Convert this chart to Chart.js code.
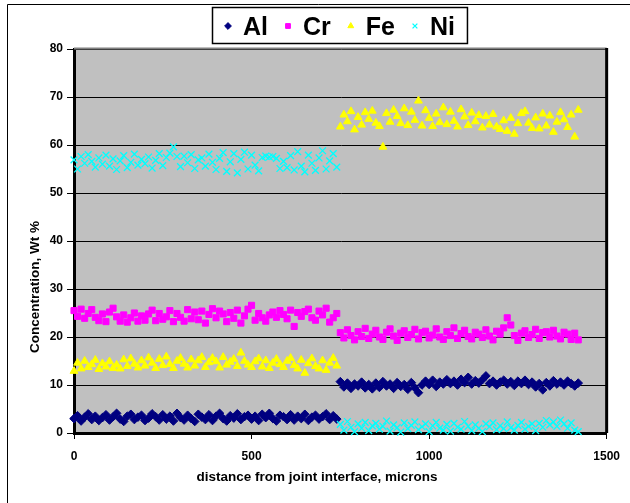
<!DOCTYPE html>
<html>
<head>
<meta charset="utf-8">
<title>Concentration profile across the joint</title>
<script src="https://cdn.jsdelivr.net/npm/chart.js@4.4.1/dist/chart.umd.min.js"></script>
<style>
    body { margin: 0; background: #fff; }
    canvas { display: block; }
</style>
</head>
<body>
<canvas id="chartProfile" width="630" height="503"></canvas>
<script>
// distance from the joint interface (microns), one entry per analysis spot
var distance = [
    0, 10, 20, 30, 40, 50, 60, 70, 80, 90, 100, 110, 120, 130, 140, 150, 160, 170, 180, 190,
    200, 210, 220, 230, 240, 250, 260, 270, 280, 290, 300, 310, 320, 330, 340, 350, 360, 370, 380, 390,
    400, 410, 420, 430, 440, 450, 460, 470, 480, 490, 500, 510, 520, 530, 540, 550, 560, 570, 580, 590,
    600, 610, 620, 630, 640, 650, 660, 670, 680, 690, 700, 710, 720, 730, 740,
    750, 760, 770, 780, 790, 800, 810, 820, 830, 840, 850, 860, 870, 880, 890, 900, 910, 920, 930, 940,
    950, 960, 970, 980, 990, 1000, 1010, 1020, 1030, 1040, 1050, 1060, 1070, 1080, 1090, 1100, 1110, 1120, 1130, 1140,
    1150, 1160, 1170, 1180, 1190, 1200, 1210, 1220, 1230, 1240, 1250, 1260, 1270, 1280, 1290, 1300, 1310, 1320, 1330, 1340,
    1350, 1360, 1370, 1380, 1390, 1400, 1410, 1420
];

// Wt % of each element at the spots above
var alWt = [
    3.0, 3.6, 2.5, 3.3, 4.0, 2.8, 3.5, 2.6, 3.2, 3.8, 2.7, 3.4, 4.1, 2.9, 2.4, 3.5, 3.9, 2.8, 3.3, 3.7,
    2.6, 3.1, 4.0, 3.4, 2.7, 3.8, 2.9, 3.5, 2.5, 4.1, 3.2, 2.7, 3.7, 3.0, 2.4, 3.9, 3.3, 2.8, 3.8, 2.6,
    3.5, 4.1, 3.0, 2.5, 3.6, 3.1, 4.0, 2.8, 3.4, 3.7, 2.9, 3.5, 2.6, 3.9, 3.2, 4.1, 3.0, 2.5, 3.7, 3.4,
    2.8, 3.8, 2.7, 3.5, 3.0, 3.9, 2.6, 3.3, 3.7, 2.9, 3.4, 4.0, 2.8, 3.6, 2.9,
    10.7, 9.6, 10.4, 9.3, 10.2, 9.8, 10.6, 9.4, 10.1, 9.2, 10.4, 9.5, 10.7, 9.8, 10.2, 9.3, 10.5, 9.7, 10.1, 9.1,
    10.5, 9.4, 8.4, 10.0, 10.8, 10.1, 11.0, 9.7, 10.6, 10.2, 11.1, 10.3, 10.8, 10.0, 11.2, 10.5, 11.6, 10.2, 10.9, 10.4,
    11.1, 11.9, 10.3, 10.8, 10.0, 10.6, 11.0, 10.2, 10.7, 9.9, 10.8, 10.3, 11.0, 10.1, 10.6, 9.6, 10.3, 9.0, 10.5, 9.8,
    10.9, 10.2, 10.6, 10.0, 10.8, 10.3, 9.8, 10.4
];
var crWt = [
    25.5, 24.3, 25.8, 23.9, 24.9, 25.7, 24.1, 23.4, 24.8, 23.2, 25.2, 26.0, 24.2, 23.3, 24.6, 23.1, 24.0, 25.0, 23.3, 24.4,
    23.5, 24.8, 25.6, 23.4, 24.9, 23.7, 24.2, 25.5, 23.2, 24.9, 24.1, 23.3, 25.7, 23.8, 25.2, 23.6, 25.4, 22.9, 24.7, 25.9,
    24.0, 25.4, 24.8, 23.2, 25.1, 23.9, 25.6, 22.9, 24.4, 25.8, 26.6, 23.5, 24.9, 24.0, 23.3, 24.6, 25.2, 24.1, 25.5, 24.7,
    23.8, 25.6, 22.2, 25.1, 24.3, 25.3, 25.8, 24.0, 23.5, 25.4, 24.6, 26.0, 23.1, 24.0, 24.9,
    20.9, 19.8, 21.5, 20.3, 19.4, 21.1, 20.1, 21.8, 19.7, 20.6, 21.4, 20.0, 19.5, 21.0, 21.7, 20.2, 19.3, 20.8, 21.3, 19.9,
    20.5, 21.6, 19.6, 20.9, 21.2, 19.8, 20.4, 21.7, 20.0, 19.5, 21.1, 20.3, 21.9, 19.7, 20.7, 21.4, 20.1, 19.6, 21.0, 20.6,
    19.9, 21.5, 20.2, 19.4, 21.2, 20.6, 21.9, 24.0, 22.5, 20.3, 19.3, 20.8, 21.3, 19.9, 20.5, 21.6, 19.7, 20.9, 21.1, 20.0,
    21.4, 20.2, 19.6, 21.0, 20.6, 19.5, 20.8, 19.4
];
var feWt = [
    12.9, 14.6, 13.4, 15.0, 13.7, 14.3, 15.2, 13.3, 14.5, 13.8, 14.9, 13.5, 14.2, 13.4, 15.3, 13.9, 15.5, 14.4, 13.6, 15.1,
    14.0, 15.7, 14.6, 13.5, 15.4, 14.1, 15.9, 14.3, 13.5, 15.0, 15.6, 14.4, 13.6, 15.3, 14.0, 15.1, 15.8, 13.7, 14.7, 15.6,
    14.9, 13.6, 15.8, 14.2, 14.8, 15.4, 13.9, 16.7, 15.0, 14.2, 13.7, 14.9, 15.5, 13.8, 15.1, 13.5, 14.6, 15.4, 14.3, 13.7,
    15.0, 15.6, 14.1, 13.4, 15.2, 12.5, 14.5, 15.5, 13.9, 13.4, 15.1, 13.1, 14.6, 15.6, 14.0,
    63.8, 66.3, 64.9, 67.0, 63.2, 65.8, 64.2, 66.8, 65.4, 67.1, 64.6, 63.9, 59.6, 66.6, 64.8, 67.3, 66.0, 64.5, 67.6, 64.1,
    66.9, 65.2, 69.2, 64.0, 67.2, 65.6, 63.9, 66.5, 64.7, 67.8, 64.3, 66.9, 65.0, 63.8, 67.4, 65.9, 64.1, 66.7, 64.9, 66.2,
    63.6, 66.0, 64.2, 66.4, 63.8, 63.3, 65.1, 62.9, 65.6, 62.3, 64.5, 66.6, 67.0, 64.6, 63.5, 65.7, 63.4, 66.5, 64.0, 66.1,
    62.7, 64.8, 66.8, 65.3, 63.7, 66.3, 61.7, 67.3
];
var niWt = [
    56.9, 55.0, 57.6, 56.2, 58.0, 56.6, 55.4, 57.3, 56.0, 57.9, 55.6, 57.1, 54.9, 56.7, 57.8, 55.3, 56.4, 58.1, 55.8, 57.0,
    56.1, 57.5, 55.2, 56.8, 58.2, 55.7, 57.4, 58.3, 59.6, 57.6, 55.5, 57.7, 56.3, 58.0, 55.1, 56.9, 57.3, 55.6, 58.1, 56.4,
    54.9, 57.2, 58.4, 54.5, 56.5, 58.2, 54.2, 57.0, 58.5, 55.0, 57.9, 55.8, 54.6, 57.4, 57.7, 57.5, 57.6, 57.2, 55.1, 56.6,
    55.3, 57.8, 54.8, 58.6, 55.6, 54.4, 57.9, 56.2, 54.7, 57.3, 58.8, 55.0, 56.7, 58.2, 55.4,
    1.8, 0.6, 2.4, 1.2, 0.3, 1.9, 1.0, 2.2, 0.5, 1.5, 2.0, 0.8, 1.4, 2.5, 0.4, 1.7, 1.1, 0.2, 2.1, 0.9,
    1.6, 2.3, 0.7, 1.3, 1.9, 0.3, 1.5, 2.2, 1.0, 0.6, 1.8, 0.4, 2.0, 1.2, 0.8, 2.4, 1.4, 0.5, 1.7, 1.0,
    0.3, 1.9, 1.3, 2.1, 0.7, 1.5, 0.9, 2.3, 1.1, 0.6, 1.6, 2.2, 0.8, 1.4, 1.9, 0.5, 2.0, 1.2, 2.6, 1.7,
    2.3, 1.4, 2.7, 1.9, 1.0, 2.1, 0.6, 0.3
];

var yTicks = [0, 10, 20, 30, 40, 50, 60, 70, 80];
var xTicks = [0, 500, 1000, 1500];

var fontFamily = '"Liberation Sans", Arial, Helvetica, sans-serif';

function toPoints(values) {
    return distance.map(function (d, i) { return { x: d, y: values[i] }; });
}

function series(label, values, colour, style, radius, order) {
    return {
        label: label,
        data: toPoints(values),
        pointStyle: style,
        pointRadius: radius,
        pointBackgroundColor: colour,
        pointBorderColor: colour,
        pointBorderWidth: style === 'crossRot' ? 1.3 : 1,
        backgroundColor: colour,
        borderColor: colour,
        showLine: false,
        clip: false,
        order: order
    };
}

// gray plot area, frame lines, axis titles and the boxed legend
var plotDecor = {
    id: 'plotDecor',
    beforeDraw: function (chart) {
        var ctx = chart.ctx, a = chart.chartArea;
        ctx.save();
        ctx.fillStyle = '#ffffff';
        ctx.fillRect(0, 0, chart.width, chart.height);
        ctx.strokeStyle = '#000000';
        ctx.lineWidth = 1;
        ctx.beginPath();
        ctx.moveTo(7.5, chart.height);
        ctx.lineTo(7.5, 4.5);
        ctx.lineTo(chart.width, 4.5);
        ctx.stroke();
        ctx.fillStyle = '#c0c0c0';
        ctx.fillRect(a.left, a.top, a.right - a.left, a.bottom - a.top);
        ctx.restore();
    },
    afterDraw: function (chart) {
        var ctx = chart.ctx, a = chart.chartArea;
        ctx.save();

        // top edge
        ctx.strokeStyle = '#808080';
        ctx.lineWidth = 2;
        ctx.beginPath();
        ctx.moveTo(a.left, a.top - 0.5);
        ctx.lineTo(a.right, a.top - 0.5);
        ctx.stroke();
        // right edge
        ctx.strokeStyle = '#000000';
        ctx.lineWidth = 3;
        ctx.beginPath();
        ctx.moveTo(a.right, a.top - 1);
        ctx.lineTo(a.right, a.bottom);
        ctx.stroke();

        // axis titles
        ctx.fillStyle = '#000000';
        ctx.font = 'bold 13.5px ' + fontFamily;
        ctx.textAlign = 'center';
        ctx.textBaseline = 'alphabetic';
        ctx.fillText('distance from joint interface, microns', 317, 481);
        ctx.save();
        ctx.translate(39, 287);
        ctx.rotate(-Math.PI / 2);
        ctx.fillText('Concentration, Wt %', 0, 0);
        ctx.restore();

        // legend
        var sets = chart.data.datasets;
        ctx.font = 'bold 25px ' + fontFamily;
        var widths = sets.map(function (s) { return ctx.measureText(s.label).width; });
        var total = 16 + 12 + 20 * (sets.length - 1);
        widths.forEach(function (w) { total += 15 + w; });
        var left = Math.round(339.5 - total / 2);
        ctx.fillStyle = '#ffffff';
        ctx.fillRect(left, 7, total, 37);
        ctx.strokeStyle = '#000000';
        ctx.lineWidth = 1.5;
        ctx.strokeRect(left + 0.5, 7.5, total, 36);

        var x = left + 16;
        sets.forEach(function (s, i) {
            ctx.fillStyle = s.pointBackgroundColor;
            ctx.strokeStyle = s.pointBorderColor;
            ctx.lineWidth = s.pointBorderWidth;
            Chart.helpers.drawPoint(ctx, {
                pointStyle: s.pointStyle,
                radius: 3.4,
                rotation: 0,
                borderWidth: s.pointBorderWidth
            }, x, 26);
            ctx.fillStyle = '#000000';
            ctx.textAlign = 'left';
            ctx.fillText(s.label, x + 15, 35);
            x += 15 + widths[i] + 20;
        });

        ctx.restore();
    }
};

var tickFont = { family: fontFamily, size: 12, weight: 'bold' };

var chartProfile = new Chart(document.getElementById('chartProfile'), {
    type: 'scatter',
    data: {
        datasets: [
            series('Al', alWt, '#000080', 'rectRot', 4.3, 4),
            series('Cr', crWt, '#ff00ff', 'rect', 4.3, 3),
            series('Fe', feWt, '#ffff00', 'triangle', 4.5, 2),
            series('Ni', niWt, '#00ffff', 'crossRot', 4.8, 1)
        ]
    },
    options: {
        responsive: false,
        animation: false,
        devicePixelRatio: 1,
        layout: { padding: { left: 0, right: 22, top: 49, bottom: 0 } },
        plugins: {
            legend: { display: false },
            tooltip: { enabled: false }
        },
        scales: {
            x: {
                type: 'linear',
                min: 0,
                max: 1500,
                afterFit: function (scale) { scale.height = 70; },
                afterBuildTicks: function (scale) {
                    scale.ticks = xTicks.map(function (v) { return { value: v }; });
                },
                ticks: {
                    color: '#000', font: tickFont, padding: 10, maxRotation: 0,
                    callback: function (value) { return String(value); }
                },
                grid: { drawOnChartArea: false, color: '#000', tickLength: 6, lineWidth: 1 },
                border: { color: '#000', width: 3 }
            },
            y: {
                min: 0,
                max: 80,
                afterFit: function (scale) { scale.width = 74; },
                afterBuildTicks: function (scale) {
                    scale.ticks = yTicks.map(function (v) { return { value: v }; });
                },
                ticks: { color: '#000', font: tickFont, padding: 4 },
                grid: { color: '#000', tickLength: 7, lineWidth: 1 },
                border: { color: '#000', width: 3 }
            }
        }
    },
    plugins: [plotDecor]
});
</script>
</body>
</html>
